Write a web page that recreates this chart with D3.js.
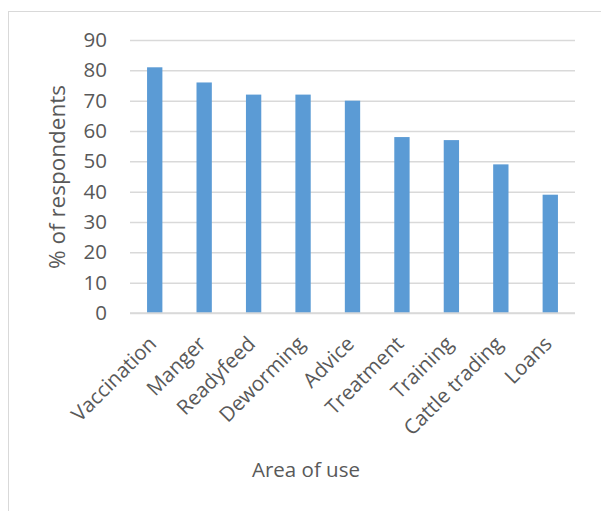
<!DOCTYPE html>
<html>
<head>
<meta charset="utf-8">
<script src="https://cdn.jsdelivr.net/npm/d3@7"></script>
<style>
  html, body { margin: 0; padding: 0; background: #fff; }
  svg { display: block; }
  text { font-family: "Open Sans", "Noto Sans", sans-serif; fill: #595959; }
</style>
</head>
<body>
<script>
// Share of respondents by area of use
const categories = ["Vaccination", "Manger", "Readyfeed", "Deworming", "Advice",
                    "Treatment", "Training", "Cattle trading", "Loans"];
const values = [81, 76, 72, 72, 70, 58, 57, 49, 39];
const yTicks = [0, 10, 20, 30, 40, 50, 60, 70, 80, 90];
const yTitle = "% of respondents";
const xTitle = "Area of use";

const W = 601, H = 511;
const plot = { left: 130, right: 575, top: 40, bottom: 313 };

const svg = d3.select("body").append("svg")
  .attr("width", W).attr("height", H);

// chart frame
svg.append("rect")
  .attr("x", 8.5).attr("y", 11.5)
  .attr("width", 640).attr("height", 540)
  .attr("fill", "#fff").attr("stroke", "#d9d9d9").attr("stroke-width", 1);

const x = d3.scaleBand().domain(categories)
  .range([plot.left, plot.right]).paddingInner(0.69).paddingOuter(0.345);
const y = d3.scaleLinear().domain([0, 90]).range([plot.bottom, plot.top]);

// gridlines + y labels
const yAxis = d3.axisLeft(y).tickValues(yTicks).tickSize(-(plot.right - plot.left)).tickPadding(23);
const gy = svg.append("g").attr("transform", `translate(${plot.left},0)`).call(yAxis);
gy.select(".domain").remove();
gy.selectAll(".tick line").attr("stroke", "#d9d9d9").attr("stroke-width", 1.5);
gy.selectAll(".tick text").attr("font-size", 20.5).style("fill", "#595959");

// bars
svg.append("g").selectAll("rect").data(values).join("rect")
  .attr("x", (d, i) => x(categories[i]))
  .attr("width", x.bandwidth())
  .attr("y", d => y(d))
  .attr("height", d => y(0) - y(d))
  .attr("fill", "#5b9bd5");

// baseline over bars
svg.append("line")
  .attr("x1", plot.left).attr("x2", plot.right)
  .attr("y1", y(0)).attr("y2", y(0))
  .attr("stroke", "#d9d9d9").attr("stroke-width", 1.5);

// rotated category labels
svg.append("g").selectAll("text").data(categories).join("text")
  .attr("transform", d => `translate(${x(d) + x.bandwidth() / 2 + 3},${plot.bottom + 32}) rotate(-45)`)
  .attr("text-anchor", "end")
  .attr("font-size", 20.5)
  .text(d => d);

// axis titles
svg.append("text")
  .attr("transform", `translate(65,177) rotate(-90)`)
  .attr("text-anchor", "middle")
  .attr("font-size", 22.5)
  .text(yTitle);

svg.append("text")
  .attr("x", 306).attr("y", 477)
  .attr("text-anchor", "middle")
  .attr("font-size", 20.5)
  .text(xTitle);
</script>
</body>
</html>
